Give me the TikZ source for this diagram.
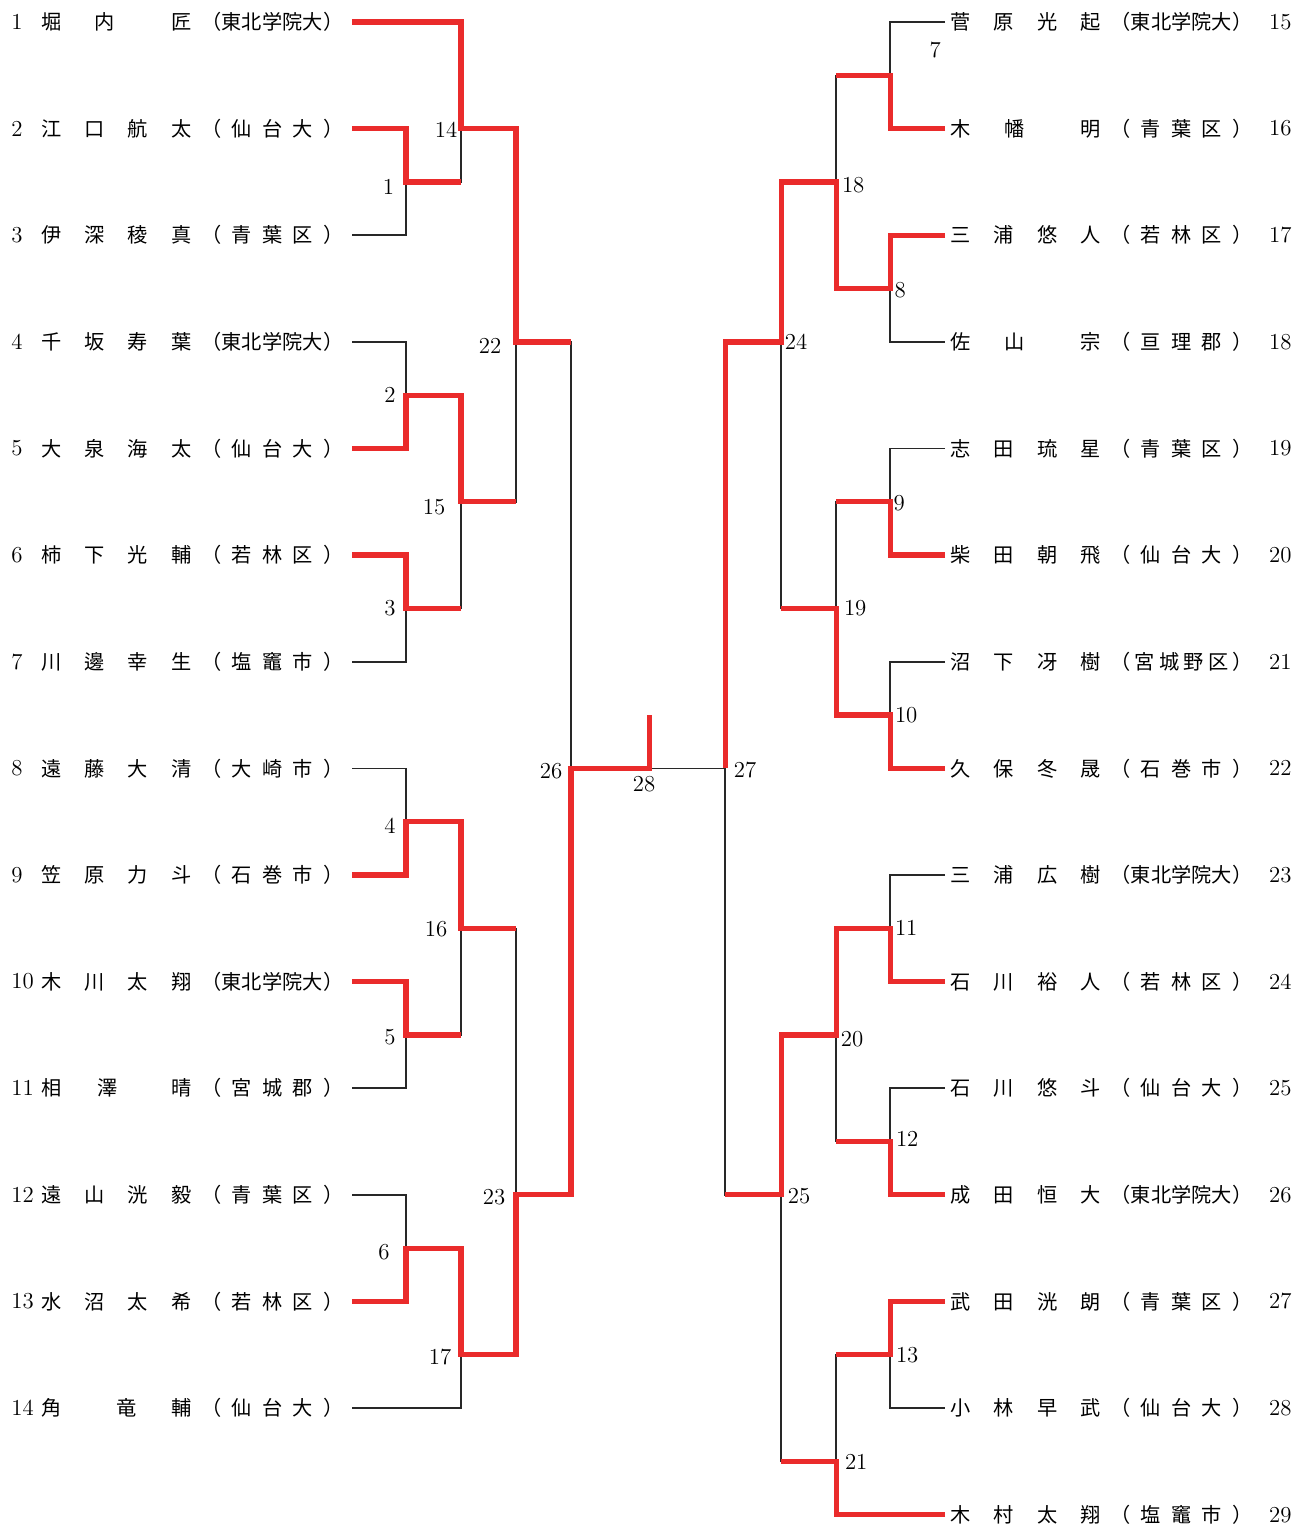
\documentclass[tikz,border=0pt]{standalone}
\usepackage{fontspec}
\usepackage{tikz}
\newfontfamily\jp{Noto Sans CJK JP}
\definecolor{winred}{RGB}{234,43,43}
\definecolor{linegray}{RGB}{40,40,40}
\newlength\colw
\setlength\colw{0.866cm}
\newcommand\plname[4]{\makebox[\colw]{#1}\makebox[\colw]{#2}\makebox[\colw]{#3}\makebox[\colw]{#4}}
\newcommand\plaff[1]{\makebox[2.44cm][s]{\makebox[0.5em][r]{（}\hfill #1\hfill \makebox[0.5em][l]{）}}}
\newcommand\player[5]{\plname{#1}{#2}{#3}{#4}\hspace{0.168cm}\plaff{#5}}

\begin{document}
\begin{tikzpicture}[x=0.02cm,y=-1.0662cm,
    pltext/.style={anchor=west,inner sep=0pt,font=\jp\fontsize{11.5}{14}\selectfont},
    seedno/.style={inner sep=0pt,font=\fontsize{13}{15}\selectfont},
    matchno/.style={inner sep=0pt,font=\fontsize{13}{15}\selectfont},
    thinline/.style={draw=linegray,line width=0.9pt},
    winline/.style={draw=winred,line width=3pt}]
        \useasboundingbox (0,-0.4127) rectangle (1306,28.212);
        % line ends of the players
        \foreach \i in {1,...,14} \coordinate (L\i) at (352,{2*(\i-1)});
        \foreach \i in {15,...,29} \coordinate (R\i) at (945,{2*(\i-15)});
        \foreach \i in {1,...,14} \node[seedno,anchor=west] (n\i) at (11,{2*(\i-1)}) {\i};
        \foreach \i in {15,...,29} \node[seedno] (n\i) at (1280,{2*(\i-15)}) {\i};
        % left half
        \node[pltext] (p1) at (29.35,0) {\player{堀}{\hspace{0.4cm}内}{}{匠}{東北学院大}};
        \node[pltext] (p2) at (29.35,2) {\player{江}{口}{航}{太}{仙\hfill 台\hfill 大}};
        \node[pltext] (p3) at (29.35,4) {\player{伊}{深}{稜}{真}{青\hfill 葉\hfill 区}};
        \node[pltext] (p4) at (29.35,6) {\player{千}{坂}{寿}{葉}{東北学院大}};
        \node[pltext] (p5) at (29.35,8) {\player{大}{泉}{海}{太}{仙\hfill 台\hfill 大}};
        \node[pltext] (p6) at (29.35,10) {\player{柿}{下}{光}{輔}{若\hfill 林\hfill 区}};
        \node[pltext] (p7) at (29.35,12) {\player{川}{邊}{幸}{生}{塩\hfill 竈\hfill 市}};
        \node[pltext] (p8) at (29.35,14) {\player{遠}{藤}{大}{清}{大\hfill 崎\hfill 市}};
        \node[pltext] (p9) at (29.35,16) {\player{笠}{原}{力}{斗}{石\hfill 巻\hfill 市}};
        \node[pltext] (p10) at (29.35,18) {\player{木}{川}{太}{翔}{東北学院大}};
        \node[pltext] (p11) at (29.35,20) {\player{相}{\hspace{0.5cm}澤}{}{晴}{宮\hfill 城\hfill 郡}};
        \node[pltext] (p12) at (29.35,22) {\player{遠}{山}{洸}{毅}{青\hfill 葉\hfill 区}};
        \node[pltext] (p13) at (29.35,24) {\player{水}{沼}{太}{希}{若\hfill 林\hfill 区}};
        \node[pltext] (p14) at (29.35,26) {\player{角}{}{竜\hspace{0.44cm}}{輔}{仙\hfill 台\hfill 大}};
        % right half
        \node[pltext] (p15) at (938.35,0) {\player{菅}{原}{光}{起}{東北学院大}};
        \node[pltext] (p16) at (938.35,2) {\player{木}{\hspace{0.44cm}幡}{}{明}{青\hfill 葉\hfill 区}};
        \node[pltext] (p17) at (938.35,4) {\player{三}{浦}{悠}{人}{若\hfill 林\hfill 区}};
        \node[pltext] (p18) at (938.35,6) {\player{佐}{\hspace{0.44cm}山}{}{宗}{亘\hfill 理\hfill 郡}};
        \node[pltext] (p19) at (938.35,8) {\player{志}{田}{琉}{星}{青\hfill 葉\hfill 区}};
        \node[pltext] (p20) at (938.35,10) {\player{柴}{田}{朝}{飛}{仙\hfill 台\hfill 大}};
        \node[pltext] (p21) at (938.35,12) {\player{沼}{下}{冴}{樹}{宮\hfill 城\hfill 野\hfill 区}};
        \node[pltext] (p22) at (938.35,14) {\player{久}{保}{冬}{晟}{石\hfill 巻\hfill 市}};
        \node[pltext] (p23) at (938.35,16) {\player{三}{浦}{広}{樹}{東北学院大}};
        \node[pltext] (p24) at (938.35,18) {\player{石}{川}{裕}{人}{若\hfill 林\hfill 区}};
        \node[pltext] (p25) at (938.35,20) {\player{石}{川}{悠}{斗}{仙\hfill 台\hfill 大}};
        \node[pltext] (p26) at (938.35,22) {\player{成}{田}{恒}{大}{東北学院大}};
        \node[pltext] (p27) at (938.35,24) {\player{武}{田}{洸}{朗}{青\hfill 葉\hfill 区}};
        \node[pltext] (p28) at (938.35,26) {\player{小}{林}{早}{武}{仙\hfill 台\hfill 大}};
        \node[pltext] (p29) at (938.35,28) {\player{木}{村}{太}{翔}{塩\hfill 竈\hfill 市}};
        % match points
        \coordinate (m1) at (406,3);  \coordinate (m2) at (406,7);
        \coordinate (m3) at (406,11); \coordinate (m4) at (406,15);
        \coordinate (m5) at (406,19); \coordinate (m6) at (406,23);
        \coordinate (m14) at (461,2); \coordinate (m15) at (461,9);
        \coordinate (m16) at (461,17); \coordinate (m17) at (461,25);
        \coordinate (m22) at (516,6); \coordinate (m23) at (516,22);
        \coordinate (m26) at (571,14);
        \coordinate (m7) at (890,1);  \coordinate (m8) at (890,5);
        \coordinate (m9) at (890,9);  \coordinate (m10) at (890,13);
        \coordinate (m11) at (890,17); \coordinate (m12) at (890,21);
        \coordinate (m13) at (890,25);
        \coordinate (m18) at (836,3); \coordinate (m19) at (836,11);
        \coordinate (m20) at (836,19); \coordinate (m21) at (836,27);
        \coordinate (m24) at (781,6); \coordinate (m25) at (781,22);
        \coordinate (m27) at (725,14);
        \coordinate (fin) at (649,14); \coordinate (fintop) at (649,13);
        % bracket
        \draw[thinline] (L2) -| (m1) |- (L3);
        \draw[thinline] (L1) -| (m14) |- (m1);
        \draw[thinline] (L4) -| (m2) |- (L5);
        \draw[thinline] (L6) -| (m3) |- (L7);
        \draw[thinline] (m2) -| (m15) |- (m3);
        \draw[thinline] (m14) -| (m22) |- (m15);
        \draw[thinline] (L8) -| (m4) |- (L9);
        \draw[thinline] (L10) -| (m5) |- (L11);
        \draw[thinline] (m4) -| (m16) |- (m5);
        \draw[thinline] (L12) -| (m6) |- (L13);
        \draw[thinline] (m6) -| (m17) |- (L14);
        \draw[thinline] (m16) -| (m23) |- (m17);
        \draw[thinline] (m22) -| (m26) |- (m23);
        \draw[thinline] (R15) -| (m7) |- (R16);
        \draw[thinline] (R17) -| (m8) |- (R18);
        \draw[thinline] (m7) -| (m18) |- (m8);
        \draw[thinline] (R19) -| (m9) |- (R20);
        \draw[thinline] (R21) -| (m10) |- (R22);
        \draw[thinline] (m9) -| (m19) |- (m10);
        \draw[thinline] (m18) -| (m24) |- (m19);
        \draw[thinline] (R23) -| (m11) |- (R24);
        \draw[thinline] (R25) -| (m12) |- (R26);
        \draw[thinline] (m11) -| (m20) |- (m12);
        \draw[thinline] (R27) -| (m13) |- (R28);
        \draw[thinline] (m13) -| (m21) |- (R29);
        \draw[thinline] (m20) -| (m25) |- (m21);
        \draw[thinline] (m24) -| (m27) |- (m25);
        \draw[thinline] (m26) -- (m27);
        % winners
        \draw[winline] (L1) -| (m14) -- (m14 -| m22) -- (m22) -- (m22 -| m26);
        \draw[winline] (L2) -| (m1) -- (m1 -| m14);
        \draw[winline] (L5) -| (m2) -- (m2 -| m15) -- (m15) -- (m15 -| m22);
        \draw[winline] (L6) -| (m3) -- (m3 -| m15);
        \draw[winline] (L9) -| (m4) -- (m4 -| m16) -- (m16) -- (m16 -| m23);
        \draw[winline] (L10) -| (m5) -- (m5 -| m16);
        \draw[winline] (L13) -| (m6) -- (m6 -| m17) -- (m17) -- (m17 -| m23) -- (m23) -- (m23 -| m26) -- (m26) -- (fin) -- (fintop);
        \draw[winline] (R16) -| (m7) -- (m7 -| m18);
        \draw[winline] (R17) -| (m8) -- (m8 -| m18) -- (m18) -- (m18 -| m24) -- (m24) -- (m24 -| m27) -- (m27);
        \draw[winline] (R20) -| (m9) -- (m9 -| m19);
        \draw[winline] (R22) -| (m10) -- (m10 -| m19) -- (m19) -- (m19 -| m24);
        \draw[winline] (R24) -| (m11) -- (m11 -| m20) -- (m20) -- (m20 -| m25) -- (m25) -- (m25 -| m27);
        \draw[winline] (R26) -| (m12) -- (m12 -| m20);
        \draw[winline] (R27) -| (m13) -- (m13 -| m21);
        \draw[winline] (R29) -| (m21) -- (m21 -| m25);
        % match numbers
        \node[matchno] (t1) at (388.5,3.095) {1};
        \node[matchno] (t2) at (390,7.0) {2};
        \node[matchno] (t3) at (390,10.99) {3};
        \node[matchno] (t4) at (390,15.08) {4};
        \node[matchno] (t5) at (390,19.04) {5};
        \node[matchno] (t6) at (384,23.07) {6};
        \node[matchno] (t14) at (446,2.016) {14};
        \node[matchno] (t15) at (434,9.1) {15};
        \node[matchno] (t16) at (436,17.01) {16};
        \node[matchno] (t17) at (440,25.04) {17};
        \node[matchno] (t22) at (490,6.078) {22};
        \node[matchno] (t23) at (494,22.04) {23};
        \node[matchno] (t26) at (551,14.05) {26};
        \node[matchno] (t28) at (644,14.29) {28};
        \node[matchno] (t7) at (935,0.525) {7};
        \node[matchno] (t8) at (900,5.03) {8};
        \node[matchno] (t9) at (899,9.02) {9};
        \node[matchno] (t10) at (906,13.0) {10};
        \node[matchno] (t11) at (906,16.99) {11};
        \node[matchno] (t12) at (907,20.95) {12};
        \node[matchno] (t13) at (907,25.0) {13};
        \node[matchno] (t18) at (853,3.06) {18};
        \node[matchno] (t19) at (855,10.99) {19};
        \node[matchno] (t20) at (852,19.08) {20};
        \node[matchno] (t21) at (856,27.0) {21};
        \node[matchno] (t24) at (796,6.0) {24};
        \node[matchno] (t25) at (799,22.02) {25};
        \node[matchno] (t27) at (745,14.03) {27};
\end{tikzpicture}
\end{document}
